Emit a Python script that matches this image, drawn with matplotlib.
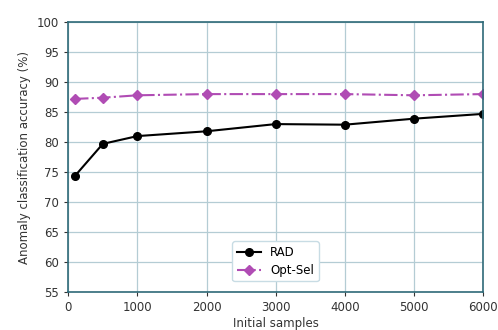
import matplotlib
matplotlib.use('Agg')
import matplotlib.pyplot as plt

samples = [100, 500, 1000, 2000, 3000, 4000, 5000, 6000]
rad = [74.4, 79.7, 81.0, 81.8, 83.0, 82.9, 83.9, 84.7]
opt_sel = [87.2, 87.4, 87.8, 88.0, 88.0, 88.0, 87.8, 88.0]

fig = plt.figure(figsize=(4.98, 3.3), dpi=100)
ax = fig.add_axes([0.137, 0.115, 0.833, 0.818])

ax.plot(samples, rad, color='black', marker='o', markersize=5.5, linewidth=1.5, label='RAD')
ax.plot(samples, opt_sel, color='#b04cb4', marker='D', markersize=5.5, linewidth=1.5,
        linestyle='-.', label='Opt-Sel')

ax.set_xlim(0, 6000)
ax.set_ylim(55, 100)
ax.set_xticks([0, 1000, 2000, 3000, 4000, 5000, 6000])
ax.set_yticks(range(55, 101, 5))
ax.grid(True, color='#b4ccd4', linewidth=0.9)
ax.tick_params(labelsize=8.5, colors='#333333', length=3)
for s in ax.spines.values():
    s.set_color('#2f6a78')
    s.set_linewidth(1.2)

ax.set_xlabel('Initial samples', fontsize=8.5, color='#333333', labelpad=2)
ax.set_ylabel('Anomaly classification accuracy (%)', fontsize=8.5, color='#333333')
ax.legend(loc='lower center', fontsize=8.5, edgecolor='#c8dce4', framealpha=1,
          borderaxespad=0.9, labelspacing=0.4)

fig.savefig('out.png', dpi=100)
